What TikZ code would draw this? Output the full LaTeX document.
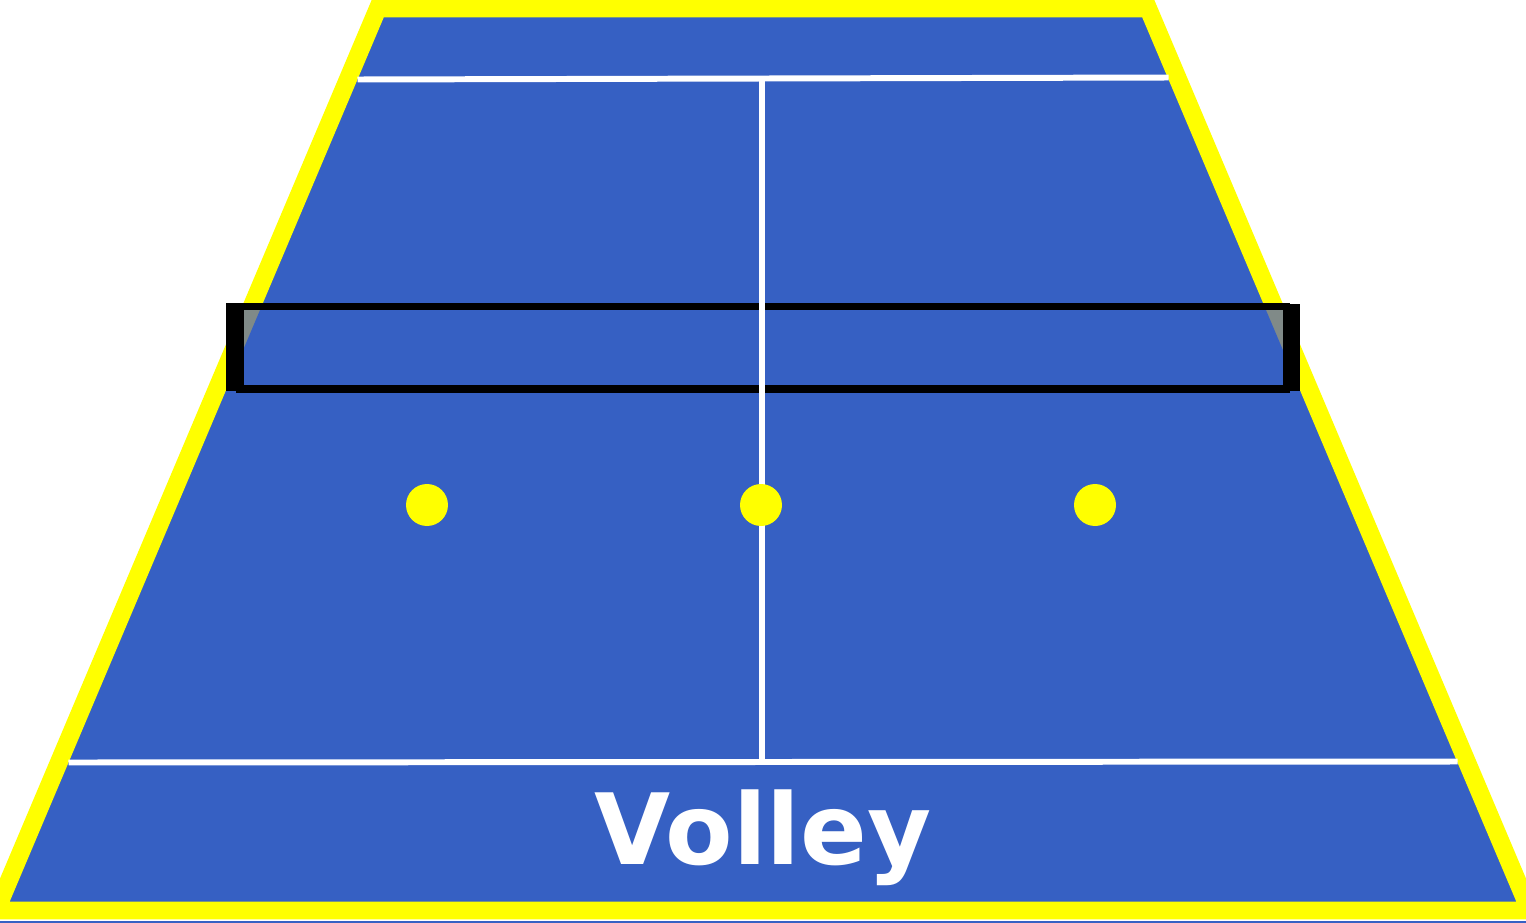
\documentclass[tikz,border=0pt]{standalone}
\usepackage{fontspec}
\setsansfont{DejaVu Sans}
\usepackage{xcolor}
\usepackage{tikz}
\definecolor{CourtBlue}{HTML}{3660C3}
\definecolor{RimYellow}{HTML}{FFFF00}
\definecolor{PostGray}{HTML}{808A88}
\definecolor{NetBlack}{HTML}{000000}

\begin{document}
\begin{tikzpicture}[
    x=0.02cm, y=-0.02cm,
    court/.style={fill=CourtBlue, draw=RimYellow, line width=10.2pt, line join=miter},
    courtline/.style={draw=white, line width=3.4pt},
    midline/.style={draw=white, line width=3.7pt},
    netband/.style={draw=NetBlack, line width=4pt},
    netpost/.style={fill=NetBlack},
    spot/.style={circle, fill=RimYellow, inner sep=0pt, minimum size=0.84cm},
    title/.style={font=\sffamily\bfseries\fontsize{56}{56}\selectfont, text=white, inner sep=0pt, anchor=base}
  ]
    \useasboundingbox (0,0) rectangle (1526,923);
    \clip (0,0) rectangle (1526,923);

    % court corners (inner edge of the rim)
    \coordinate (ctl) at (384,17);
    \coordinate (ctr) at (1142,17);
    \coordinate (cbr) at (1516,901);
    \coordinate (cbl) at (10,901);

    \fill[CourtBlue] (0,920.5) rectangle (1526,923);
    \path[court] (377.8,8.5) -- (1148.2,8.5) -- (1529.8,910.5) -- (-3.8,910.5) -- cycle;

    % service lines
    \coordinate (svl) at (357.5,79.5);
    \coordinate (svr) at (1168.5,77.5);
    \coordinate (bsl) at (68.5,762.5);
    \coordinate (bsr) at (1457.5,761.5);
    \draw[courtline] (svl) -- (svr);
    \draw[courtline] (bsl) -- (bsr);

    % net
    \coordinate (ntl) at (240,306.5);
    \coordinate (nbr) at (1286.5,389);
    \fill[PostGray] (ntl) rectangle (nbr);
    \begin{scope}
      \clip (ntl) rectangle (nbr);
      \fill[CourtBlue] (ctl) -- (ctr) -- (cbr) -- (cbl) -- cycle;
    \end{scope}
    \draw[netband] (ntl) rectangle (nbr);
    \fill[netpost] (226,303) rectangle (243,391);
    \fill[netpost] (1283,304) rectangle (1300,391);

    % centre line over the net
    \coordinate (mtop) at (761.8,79);
    \coordinate (mbot) at (761.8,762);
    \draw[midline] (mtop) -- (mbot);

    \node[spot] (spotl) at (427,505) {};
    \node[spot] (spotc) at (761,505) {};
    \node[spot] (spotr) at (1095,505) {};

    \node[title] (label) at (763,864) {Volley};
\end{tikzpicture}
\end{document}
